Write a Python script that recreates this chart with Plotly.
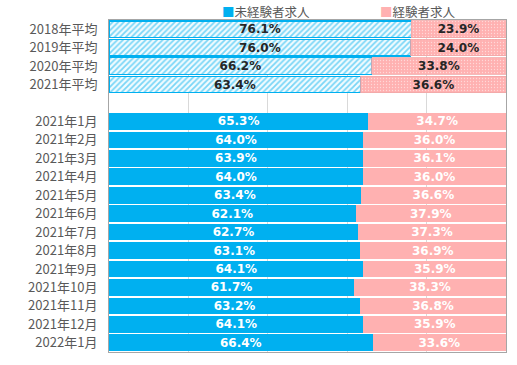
import plotly.graph_objects as go

avg_labels = ["2018年平均", "2019年平均", "2020年平均", "2021年平均"]
avg_inexp = [76.1, 76.0, 66.2, 63.4]
avg_exp = [23.9, 24.0, 33.8, 36.6]

month_labels = ["2021年1月", "2021年2月", "2021年3月", "2021年4月", "2021年5月",
                "2021年6月", "2021年7月", "2021年8月", "2021年9月", "2021年10月",
                "2021年11月", "2021年12月", "2022年1月"]
month_inexp = [65.3, 64.0, 63.9, 64.0, 63.4, 62.1, 62.7, 63.1, 64.1, 61.7, 63.2, 64.1, 66.4]
month_exp = [34.7, 36.0, 36.1, 36.0, 36.6, 37.9, 37.3, 36.9, 35.9, 38.3, 36.8, 35.9, 33.6]

series_names = ["未経験者求人", "経験者求人"]

blank = " "
categories = avg_labels + [blank] + month_labels

BLUE = "#00B0F0"
PINK = "#FFB1B1"
FONT = "Noto Sans CJK JP"
NUMFONT = "DejaVu Sans"

W, H = 517, 365
L, T, R, B = 109, 20, 11, 13
PW = W - L - R
PH = H - T - B

def fmt(vals):
    return [f"{v:.1f}%" for v in vals]

fig = go.Figure()
fig.add_trace(go.Bar(
    y=avg_labels, x=avg_inexp, orientation="h", name=series_names[0], showlegend=False,
    marker=dict(color="#FFFFFF", line=dict(color=BLUE, width=1.2),
                pattern=dict(shape="/", fgcolor=BLUE, bgcolor="#F2FBFE", size=4, solidity=0.45)),
    text=fmt(avg_inexp), textposition="inside", insidetextanchor="middle",
    textfont=dict(color="#262626", size=12, family=NUMFONT, weight="bold"),
    hoverinfo="skip"))
fig.add_trace(go.Bar(
    y=month_labels, x=month_inexp, orientation="h", name=series_names[0], showlegend=False,
    marker=dict(color=BLUE, line=dict(width=0)),
    text=fmt(month_inexp), textposition="inside", insidetextanchor="middle",
    textfont=dict(color="white", size=12, family=NUMFONT, weight="bold"),
    hoverinfo="skip"))
fig.add_trace(go.Bar(
    y=avg_labels, x=avg_exp, orientation="h", name=series_names[1], showlegend=False,
    marker=dict(color=PINK, line=dict(color="#F0A8A8", width=0.8),
                pattern=dict(shape=".", fgcolor="#FFFFFF", bgcolor=PINK, size=3, solidity=0.15)),
    text=fmt(avg_exp), textposition="inside", insidetextanchor="middle",
    textfont=dict(color="#262626", size=12, family=NUMFONT, weight="bold"),
    hoverinfo="skip"))
fig.add_trace(go.Bar(
    y=month_labels, x=month_exp, orientation="h", name=series_names[1], showlegend=False,
    marker=dict(color=PINK, line=dict(width=0)),
    text=fmt(month_exp), textposition="inside", insidetextanchor="middle",
    textfont=dict(color="white", size=12, family=NUMFONT, weight="bold"),
    hoverinfo="skip"))

# legend drawn as annotations (colored square + label)
for name, color, xpx in [(series_names[0], BLUE, 220), (series_names[1], PINK, 378)]:
    fig.add_annotation(
        xref="paper", yref="paper", x=(xpx - L) / PW, y=1 + 8 / PH,
        xanchor="left", yanchor="middle", showarrow=False,
        text=f'<span style="color:{color}">■</span>{name}',
        font=dict(family=FONT, size=12.5, color="#595959"))

fig.update_layout(
    width=W, height=H,
    barmode="stack", bargap=0.1,
    margin=dict(l=L, r=R, t=T, b=B),
    paper_bgcolor="white", plot_bgcolor="white",
    font=dict(family=FONT, color="#595959", size=12),
    uniformtext=dict(mode="show", minsize=10),
    showlegend=False,
    hovermode=False,
    xaxis=dict(range=[0, 100], dtick=20, showticklabels=False, showgrid=True,
               gridcolor="#D9D9D9", gridwidth=1, zeroline=False, automargin=False,
               showline=True, linecolor="#A6A6A6", linewidth=1, mirror=True, ticks=""),
    yaxis=dict(categoryorder="array", categoryarray=categories, autorange="reversed",
               type="category", showline=True, linecolor="#A6A6A6", linewidth=1, mirror=True,
               ticks="", ticklabelstandoff=8, automargin=False,
               tickfont=dict(size=13, color="#595959"), showgrid=False),
)

fig.write_html("out.html", config={"displayModeBar": False},
               post_script="document.body.style.margin='0';document.body.style.overflow='hidden';")
